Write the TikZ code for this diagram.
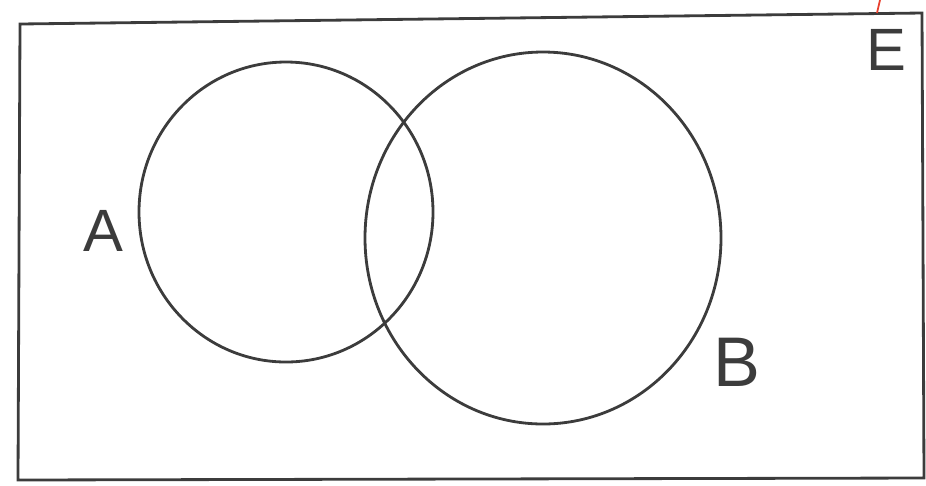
\documentclass[tikz,border=0pt]{standalone}
\usepackage{fontspec}
\setmainfont{Liberation Sans}
\usepackage{xcolor}
\usepackage{tikz}
\usetikzlibrary{positioning}

\definecolor{pencil}{HTML}{3C3C3C}
\definecolor{redpen}{HTML}{E8412F}

\begin{document}
\begin{tikzpicture}[
      x=0.02cm, y=-0.02cm,
      line width=1.5pt,
      every node/.style={text=pencil, font=\fontsize{34}{34}\selectfont, inner sep=0pt},
      setline/.style={draw=pencil, line width=1.6pt}
    ]
      \useasboundingbox (0,0) rectangle (926,485);
      % universal set
      \draw[setline] (20,24) -- (922,13) -- (924,478) -- (18,480) -- cycle;
      % sets
      \draw[setline] (286,212) ellipse [x radius=147, y radius=150];
      \draw[setline] (543,238) ellipse [x radius=178, y radius=186];
      % labels
      \node (lblA) at (103,231) {A};
      \node[font=\fontsize{40}{40}\selectfont] (lblB) at (737,362) {B};
      \node (lblE) at (886,50) {E};
      % red marks cut off at top
      \draw[redpen, line width=1pt] (880,0) -- (877,13);
    \end{tikzpicture}
\end{document}
